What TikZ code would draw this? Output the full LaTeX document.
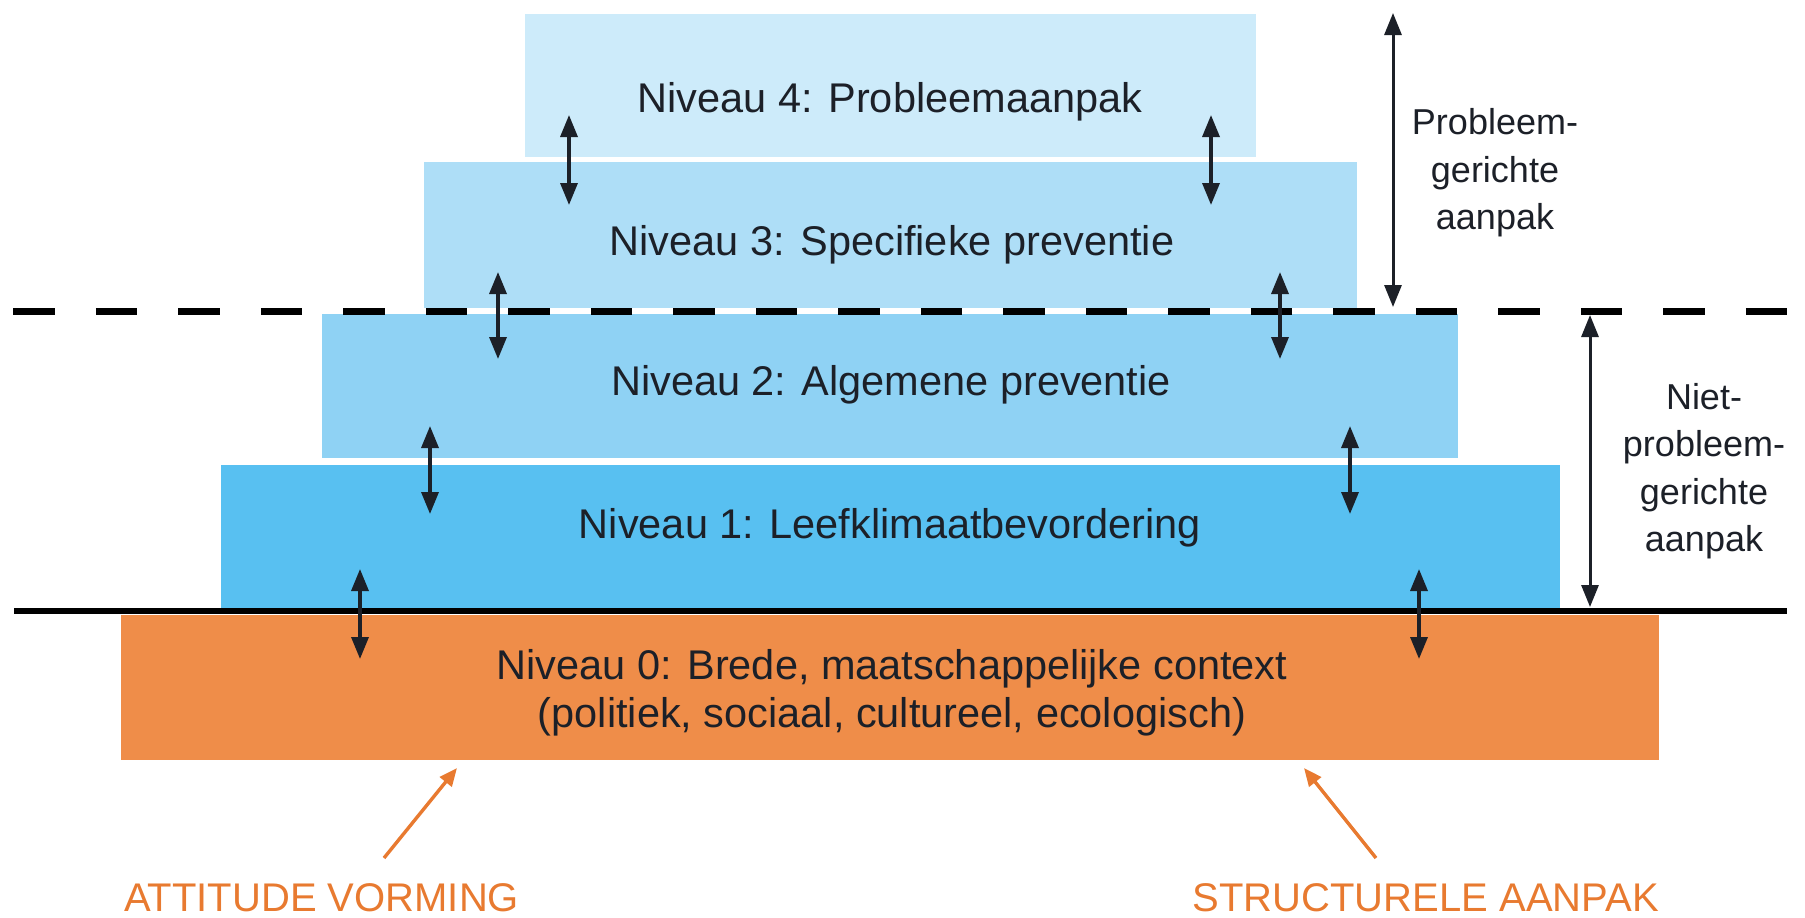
\documentclass[tikz,border=0pt]{standalone}
\usepackage{fontspec}
\setmainfont{Liberation Sans}
\usetikzlibrary{arrows.meta}
\definecolor{lvfour}{RGB}{205,235,250}
\definecolor{lvthree}{RGB}{174,222,247}
\definecolor{lvtwo}{RGB}{143,210,244}
\definecolor{lvone}{RGB}{88,192,241}
\definecolor{lvzero}{RGB}{239,141,73}
\definecolor{orangetext}{RGB}{232,122,48}
\definecolor{darktext}{RGB}{28,32,40}
\begin{document}
\begin{tikzpicture}[x=1pt,y=-1pt,
  levelbox/.style={draw=none,inner sep=0pt,minimum height=#1},
  leveltext/.style={text=darktext,font=\fontsize{41.5}{48}\selectfont,align=center,inner sep=0pt},
  sidetext/.style={text=darktext,font=\fontsize{36}{47.5}\selectfont,align=center,inner sep=0pt},
  orangelabel/.style={text=orangetext,font=\fontsize{40}{46}\selectfont,inner sep=0pt},
  dbl/.style={draw=darktext,line width=3.4pt,{Triangle[length=22pt,width=17pt]}-{Triangle[length=22pt,width=17pt]}},
  orangearrow/.style={draw=orangetext,line width=3.4pt,-{Triangle[length=18pt,width=15pt]}}
]
\useasboundingbox (0,0) rectangle (1805,918);
\fill[white] (0,0) rectangle (1805,918);

% levels
\node[levelbox=143pt,fill=lvfour,minimum width=731pt] (n4) at (890.5,85.5) {};
\node[levelbox=146pt,fill=lvthree,minimum width=933pt] (n3) at (890.5,235) {};
\node[levelbox=144pt,fill=lvtwo,minimum width=1136pt] (n2) at (890,386) {};
\node[levelbox=143pt,fill=lvone,minimum width=1339pt] (n1) at (890.5,536.5) {};
\node[levelbox=145pt,fill=lvzero,minimum width=1538pt] (n0) at (890,687.5) {};

\node[leveltext] (t4) at (890,102) {Niveau 4: Probleemaanpak};
\node[leveltext] (t3) at (892,245) {Niveau 3: Specifieke preventie};
\node[leveltext] (t2) at (891,385) {Niveau 2: Algemene preventie};
\node[leveltext] (t1) at (890,528) {Niveau 1: Leefklimaatbevordering};
\node[leveltext] (t0) at (892,693) {Niveau 0: Brede, maatschappelijke context\\(politiek, sociaal, cultureel, ecologisch)};

% separating lines
\coordinate (dashL) at (13.4,311);
\coordinate (dashR) at (1787.4,311);
\coordinate (solL) at (14,611);
\coordinate (solR) at (1787,611);
\draw[line width=7pt,dash pattern=on 41.5pt off 41pt] (dashL) -- (dashR);
\draw[line width=6pt] (solL) -- (solR);

% double arrows between levels
\coordinate (a4lt) at (569,115); \coordinate (a4lb) at (569,205);
\coordinate (a4rt) at (1211,115); \coordinate (a4rb) at (1211,205);
\coordinate (a3lt) at (498,272); \coordinate (a3lb) at (498,359);
\coordinate (a3rt) at (1280,272); \coordinate (a3rb) at (1280,359);
\coordinate (a2lt) at (430,426); \coordinate (a2lb) at (430,514);
\coordinate (a2rt) at (1350,426); \coordinate (a2rb) at (1350,514);
\coordinate (a1lt) at (360,569); \coordinate (a1lb) at (360,659);
\coordinate (a1rt) at (1419,569); \coordinate (a1rb) at (1419,659);
\draw[dbl] (a4lt) -- (a4lb);
\draw[dbl] (a4rt) -- (a4rb);
\draw[dbl] (a3lt) -- (a3lb);
\draw[dbl] (a3rt) -- (a3rb);
\draw[dbl] (a2lt) -- (a2lb);
\draw[dbl] (a2rt) -- (a2rb);
\draw[dbl] (a1lt) -- (a1lb);
\draw[dbl] (a1rt) -- (a1rb);

% side brackets
\coordinate (b1t) at (1393,13); \coordinate (b1b) at (1393,307);
\coordinate (b2t) at (1590,315); \coordinate (b2b) at (1590,607);
\draw[dbl,line width=3pt] (b1t) -- (b1b);
\draw[dbl,line width=3pt] (b2t) -- (b2b);
\node[sidetext] (s1) at (1495,173) {Probleem-\\gerichte\\aanpak};
\node[sidetext] (s2) at (1704,471) {Niet-\\probleem-\\gerichte\\aanpak};

% orange labels
\node[orangelabel,anchor=west] (la) at (124,898) {ATTITUDE VORMING};
\node[orangelabel,anchor=east] (lb) at (1659,898) {STRUCTURELE AANPAK};
\coordinate (oa1) at (384,858); \coordinate (oa2) at (457,768);
\coordinate (ob1) at (1376,858); \coordinate (ob2) at (1304,768);
\draw[orangearrow] (oa1) -- (oa2);
\draw[orangearrow] (ob1) -- (ob2);
\end{tikzpicture}
\end{document}
